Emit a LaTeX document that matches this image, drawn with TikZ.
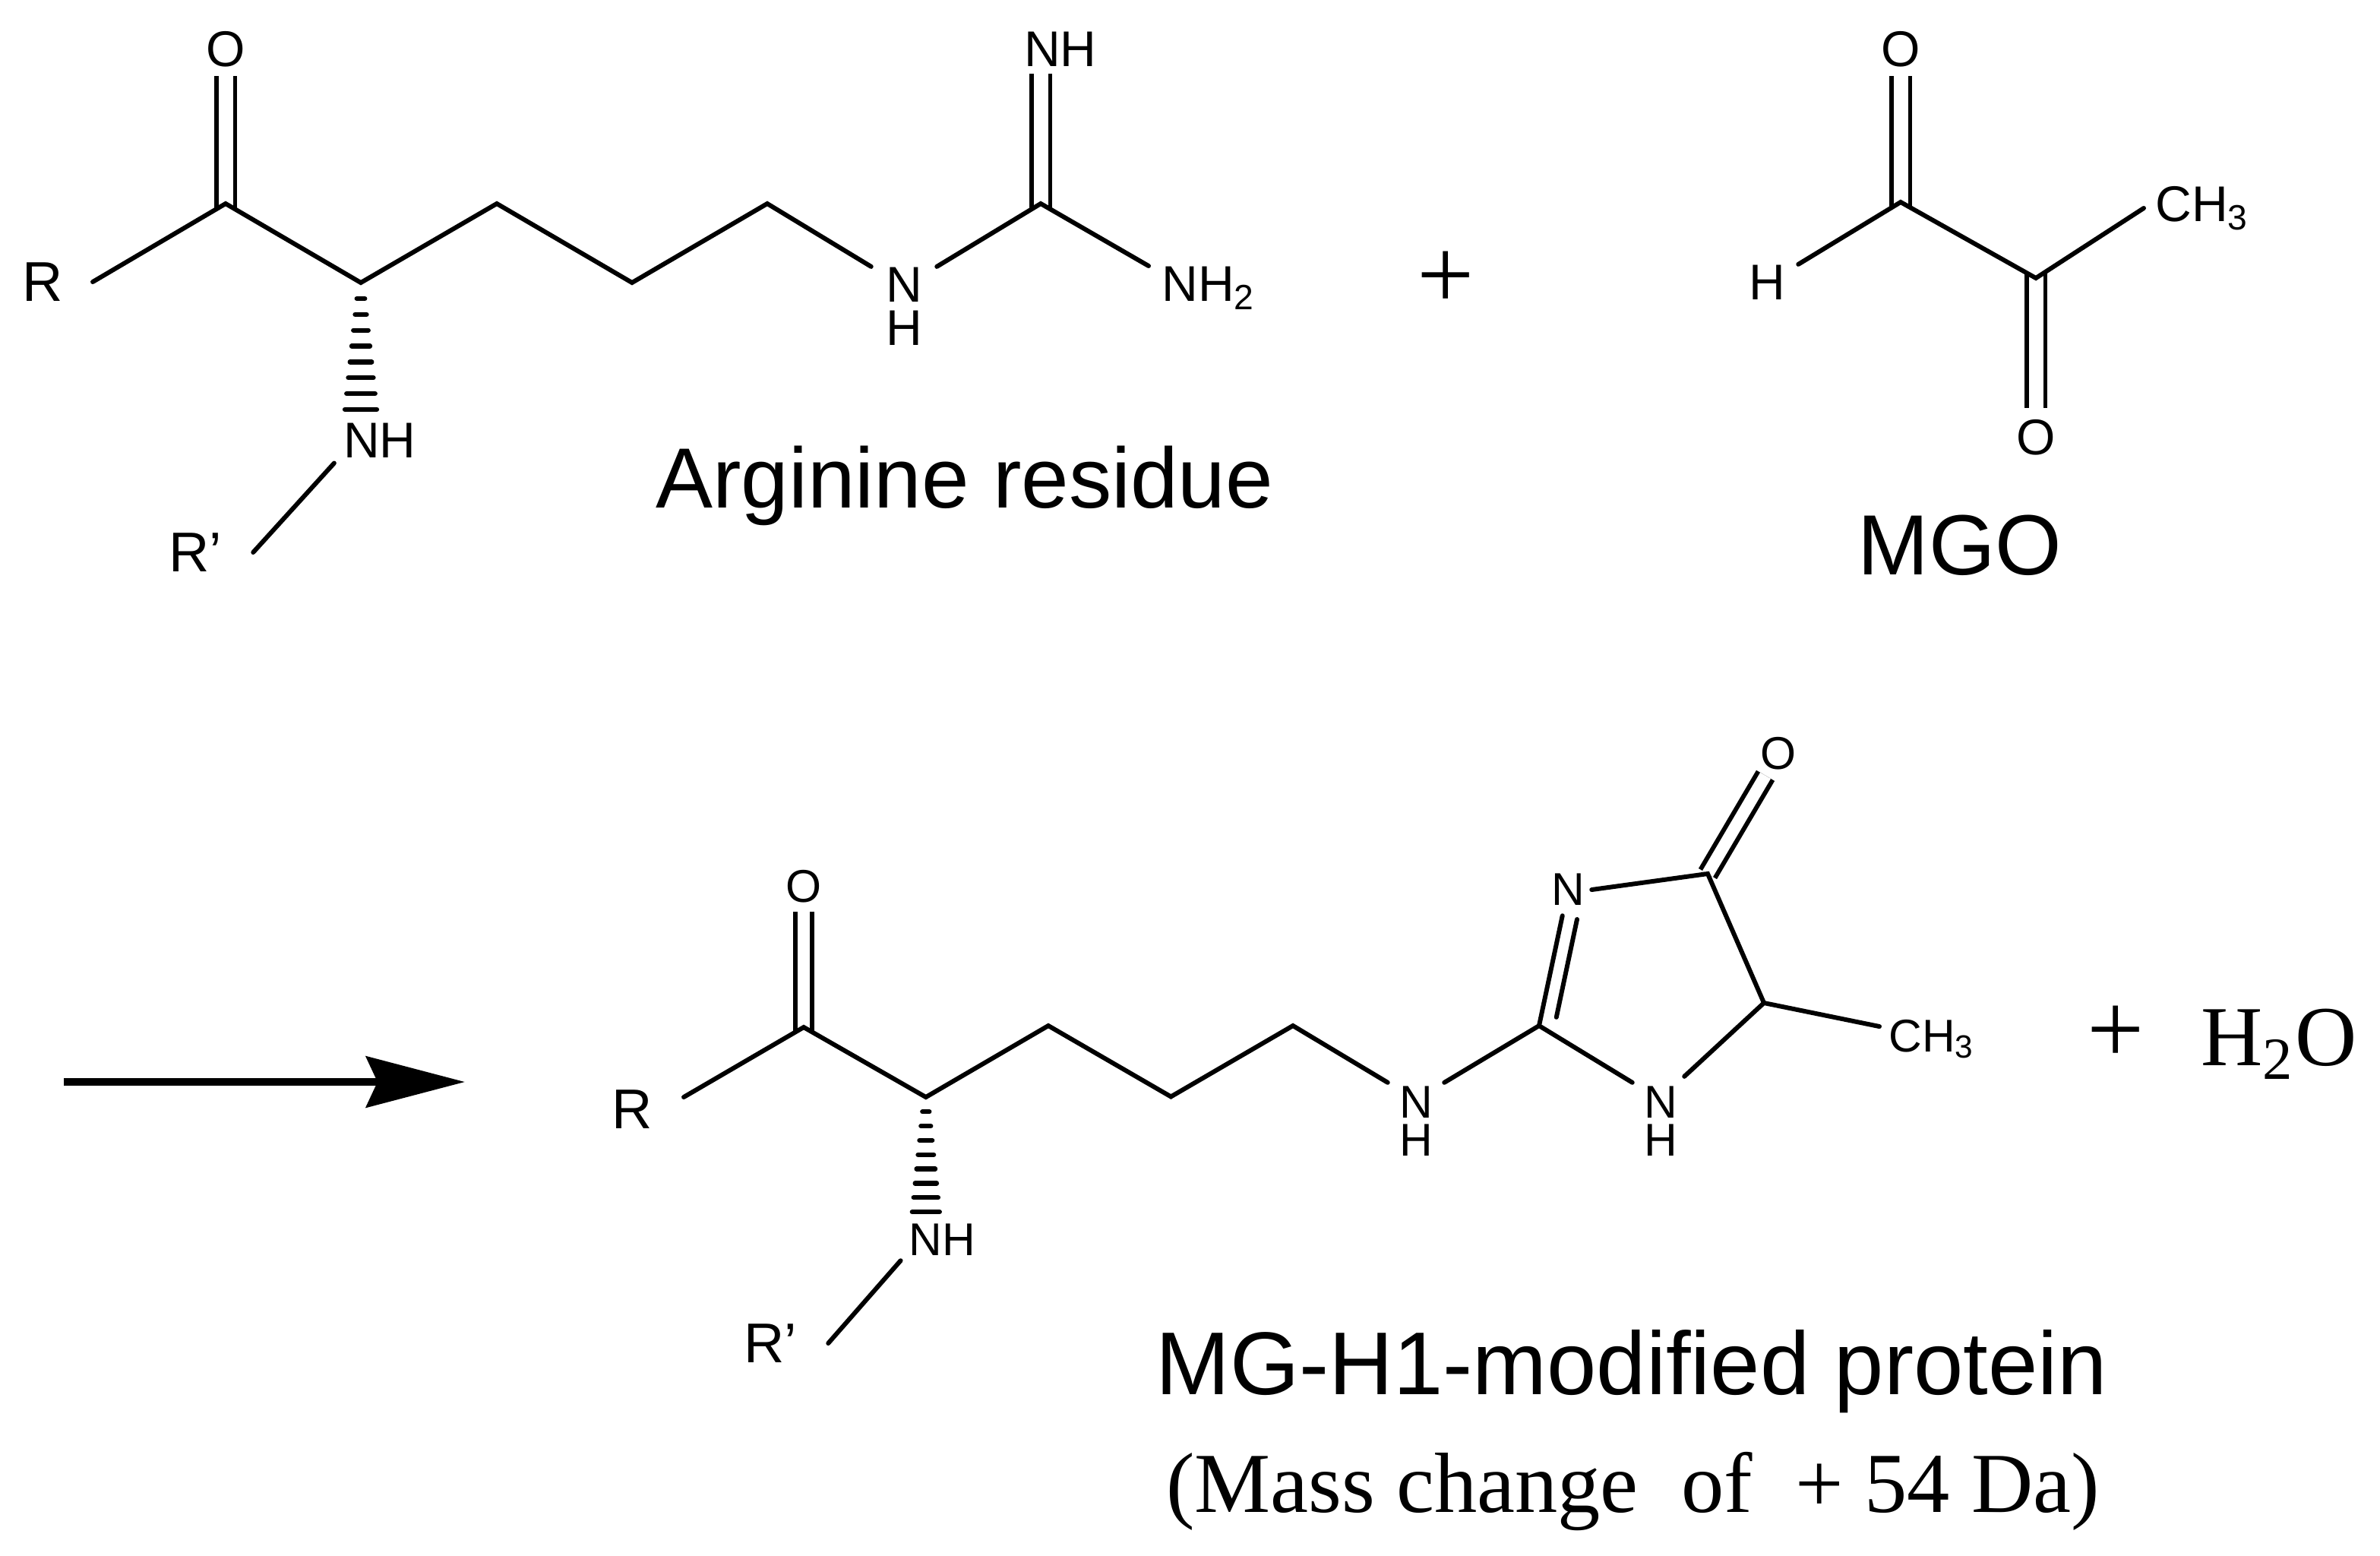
\documentclass[tikz,border=0pt]{standalone}
\usepackage{fontspec}
\setmainfont{Liberation Sans}
\newfontfamily\serifface{Liberation Serif}
\usetikzlibrary{calc}
\usetikzlibrary{arrows.meta}
\newcommand{\hashBond}[3]{
    \foreach \i in {0,...,7} {
        \pgfmathsetmacro{\w}{#3*(0.25+0.75*\i/7)}
        \draw[hash] ($(#1)!\i/7!(#2) + (-\w, 0)$) -- ($(#1)!\i/7!(#2) + (\w, 0)$);
    }
}

\begin{document}
\begin{tikzpicture}
            \tikzstyle{bond} = [line width=0.85pt, line cap=round]
            \tikzstyle{dbond} = [line width=0.85pt, double, double distance=0.095cm, shorten <=-0.03cm]
            \tikzstyle{dbondb} = [dbond, double distance=0.08cm]
            \tikzstyle{hash} = [line width=0.9pt, line cap=round]
            \tikzstyle{atom} = [font=\fontsize{9.4}{11}\selectfont, inner sep=0pt]
            \tikzstyle{atomb} = [font=\fontsize{8.6}{10}\selectfont, inner sep=0pt]
            \tikzstyle{rgroup} = [font=\fontsize{10.5}{12}\selectfont, inner sep=0pt]
            \tikzstyle{caption} = [font=\fontsize{16}{19}\selectfont, inner sep=0pt, anchor=base west]
            \tikzstyle{serifcaption} = [font=\serifface\fontsize{16}{19}\selectfont, inner sep=0pt, anchor=base west]
            \tikzstyle{plus} = [font=\serifface\fontsize{19}{22}\selectfont, inner sep=0pt]
            \useasboundingbox (0, 0) rectangle (15.665, -10.235);

            \coordinate (c1) at (1.485, -1.34);
            \coordinate (c2) at (2.375, -1.86);
            \coordinate (c3) at (3.27, -1.34);
            \coordinate (c4) at (4.16, -1.86);
            \coordinate (c5) at (5.05, -1.34);
            \coordinate (gc) at (6.85, -1.34);
            \coordinate (h1a) at (2.375, -1.965);
            \coordinate (h1b) at (2.375, -2.694);
            \node[rgroup, inner xsep=0.19cm] (r1) at (0.28, -1.855) {R};
            \node[rgroup, inner xsep=0.2cm] (r2) at (1.285, -3.635) {R’};
            \node[atom, inner ysep=0.05cm] (o1) at (1.485, -0.325) {O};
            \node[atom, inner xsep=0.055cm, inner ysep=0.027cm] (nh1) at (2.5, -2.9) {NH};
            \node[atom, inner xsep=0.09cm] (n1) at (5.95, -1.875) {N};
            \node[atom] (h1) at (5.95, -2.16) {H};
            \node[atom, inner xsep=0.08cm, anchor=north west] (nh2) at (7.56, -1.75) {NH\textsubscript{2}};
            \node[atom, inner ysep=0.04cm] (nh3) at (6.98, -0.325) {NH};
            \draw[dbond] (c1) -- (c1 |- o1.south);
            \draw[dbond] (gc) -- (gc |- nh3.south);
            \draw[bond] (r1.east) -- (c1) -- (c2) -- (c3) -- (c4) -- (c5) -- (n1.north west);
            \draw[bond] (n1.north east) -- (gc) -- (nh2.north west);
            \draw[bond] (nh1.south west) -- (r2.east);
            \hashBond{h1a}{h1b}{0.105}
            \node[caption] (arg) at (4.31, -3.34) {Arginine residue};
            \node[plus] (plus1) at (9.515, -1.845) {+};

            \coordinate (m1) at (12.51, -1.33);
            \coordinate (m2) at (13.4, -1.83);
            \node[atom, inner xsep=0.08cm] (hm) at (11.63, -1.86) {H};
            \node[atom, inner ysep=0.05cm] (o2) at (12.51, -0.325) {O};
            \node[atom, inner ysep=0.07cm] (o3) at (13.4, -2.88) {O};
            \node[atom, inner xsep=0.07cm, anchor=north west] (ch3) at (14.11, -1.22) {CH\textsubscript{3}};
            \draw[dbond] (m1) -- (m1 |- o2.south);
            \draw[dbond] (m2) -- (m2 |- o3.north);
            \draw[bond] (hm.north east) -- (m1) -- (m2) -- (ch3.west);
            \node[caption] (mgo) at (12.22, -3.78) {MGO};

            \coordinate (a1) at (0.42, -7.12);
            \coordinate (a2) at (3.06, -7.12);
            \draw[line width=0.05cm, -{Stealth[length=0.65cm, width=0.335cm, inset=0.075cm]}] (a1) -- (a2);

            \coordinate (d1) at (5.29, -6.76);
            \coordinate (d2) at (6.094, -7.22);
            \coordinate (d3) at (6.9, -6.75);
            \coordinate (d4) at (7.707, -7.217);
            \coordinate (d5) at (8.51, -6.75);
            \coordinate (h2a) at (6.094, -7.316);
            \coordinate (h2b) at (6.094, -7.975);
            \coordinate (rc2) at (10.13, -6.75);
            \coordinate (rc4) at (11.24, -5.75);
            \coordinate (rc5) at (11.61, -6.6);
            \coordinate (inA) at (10.244, -6.694);
            \coordinate (inB) at (10.38, -6.05);
            \node[rgroup, inner xsep=0.2cm] (r3) at (4.16, -7.3) {R};
            \node[rgroup, inner xsep=0.2cm] (r4) at (5.07, -8.84) {R’};
            \node[atomb, inner ysep=0.05cm] (o4) at (5.29, -5.835) {O};
            \node[atomb, inner xsep=0.05cm, inner ysep=0.025cm] (nh4) at (6.203, -8.16) {NH};
            \node[atomb, inner xsep=0.07cm, inner ysep=0.02cm] (n2) at (9.32, -7.255) {N};
            \node[atomb] (h2) at (9.32, -7.505) {H};
            \node[atomb, inner xsep=0.07cm, inner ysep=0.02cm] (n3) at (10.93, -7.255) {N};
            \node[atomb] (h3) at (10.93, -7.505) {H};
            \node[atomb, inner xsep=0.04cm, inner ysep=0.06cm] (n4) at (10.32, -5.855) {N};
            \node[atomb, inner ysep=0.03cm] (o5) at (11.705, -4.96) {O};
            \node[atomb, anchor=north west, inner xsep=0.055cm] (ch3b) at (12.37, -6.705) {CH\textsubscript{3}};
            \draw[dbondb] (d1) -- (d1 |- o4.south);
            \draw[dbondb, shorten <=0pt] (rc4) -- (o5);
            \draw[bond] ([yshift=0.08cm]r3.east) -- (d1) -- (d2) -- (d3) -- (d4) -- (d5) -- (n2.north west);
            \draw[bond] (n2.north east) -- (rc2) -- (n3.north west);
            \draw[bond] (rc2) -- (n4);
            \draw[bond] (inA) -- (inB);
            \draw[bond] (n4.east) -- (rc4) -- (rc5) -- ([yshift=0.04cm, xshift=-0.03cm]n3.north east);
            \draw[bond] (rc5) -- ([yshift=-0.05cm]ch3b.north west);
            \draw[bond] (nh4.south west) -- (r4.east);
            \hashBond{h2a}{h2b}{0.09}
            \node[plus] (plus2) at (13.925, -6.81) {+};
            \node[serifcaption] (water) at (14.48, -7.01) {H\textsubscript{2}O};
            \node[caption, font=\fontsize{16.7}{19}\selectfont] (mgh) at (7.6, -9.176) {MG-H1-modified protein};
            \node[serifcaption] (mass) at (7.67, -9.95) {(Mass change~~of~~+ 54 Da)};
        \end{tikzpicture}
\end{document}
